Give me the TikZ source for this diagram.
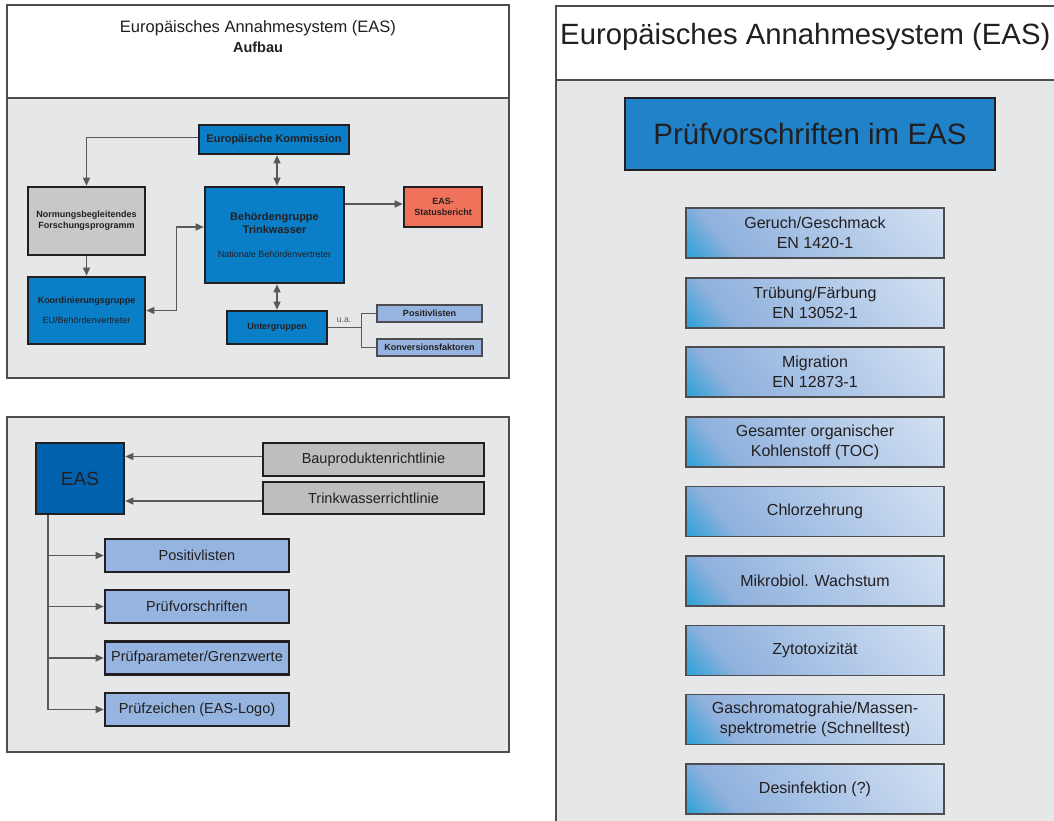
\documentclass[tikz,border=0pt]{standalone}
\usepackage{fontspec}
\setmainfont{Liberation Sans}
\usetikzlibrary{arrows.meta}

\definecolor{textdark}{HTML}{231F20}
\definecolor{framegrey}{HTML}{4D4D4F}
\definecolor{panelgrey}{HTML}{E6E7E8}
\definecolor{linegrey}{HTML}{58595B}
\definecolor{boxblue}{HTML}{0A7EC6}
\definecolor{easblue}{HTML}{0062AE}
\definecolor{headblue}{HTML}{2082C8}
\definecolor{paleblue}{HTML}{95B4DF}
\definecolor{boxgrey}{HTML}{BDBEC0}
\definecolor{normgrey}{HTML}{C8C8CA}
\definecolor{salmon}{HTML}{F1725A}
\definecolor{gradtop}{HTML}{D3E1F2}
\definecolor{gradmid}{HTML}{AAC4E6}
\definecolor{gradleft}{HTML}{8FB1DD}
\definecolor{gradbot}{HTML}{35A2D8}

\pgfdeclarehorizontalshading{testshade}{100bp}{color(0bp)=(gradbot); color(16bp)=(gradbot);
  color(27bp)=(gradleft); color(50bp)=(gradmid); color(85bp)=(gradtop); color(100bp)=(gradtop)}

\tikzset{
  panel/.style={draw=framegrey, line width=1.2pt, fill=panelgrey},
  orgbox/.style={draw=textdark, line width=2.6pt, inner sep=0pt, align=center, text=textdark,
    font={\fontsize{9}{11}\selectfont\bfseries}},
  smallbox/.style={draw=framegrey, line width=1.5pt, fill=paleblue, inner sep=0pt, text=textdark,
    minimum width=105pt, minimum height=17pt, font={\fontsize{9}{11}\selectfont\bfseries}},
  rulebox/.style={draw=textdark, line width=2.6pt, fill=boxgrey, inner sep=0pt, text=textdark,
    minimum width=221pt, minimum height=33pt, font={\fontsize{14.5}{17}\selectfont}},
  listbox/.style={draw=textdark, line width=2.6pt, fill=paleblue, inner sep=0pt, text=textdark,
    minimum width=184pt, minimum height=33pt, font={\fontsize{14.5}{17}\selectfont}},
  testbox/.style={draw=framegrey, line width=1.2pt, shade, shading=testshade, shading angle=40,
    inner sep=0pt, align=center, text=textdark,
    minimum width=258pt, minimum height=50pt, font={\fontsize{16}{20}\selectfont}},
  conn/.style={draw=linegrey, line width=1.3pt}
}

\begin{document}
\begin{tikzpicture}[x=1pt, y=-1pt, >={Triangle[length=8pt,width=7pt]}]
\useasboundingbox (0,0) rectangle (1054,821);
\clip (0,0) rectangle (1054,821);

% Aufbau
\draw[panel, fill=white] (7,5) rectangle (509,98);
\draw[panel] (7,98) rectangle (509,378);
\node[text=textdark, font={\fontsize{16.5}{20}\selectfont}] (titleA) at (258,28) {Europäisches Annahmesystem (EAS)};
\node[text=textdark, font={\fontsize{14.5}{17}\selectfont\bfseries}] (aufbau) at (258,47) {Aufbau};

\node[orgbox, fill=boxblue, minimum width=150pt, minimum height=29pt, font={\fontsize{11}{13}\selectfont\bfseries}] (kom) at (274,139.5) {Europäische Kommission};
\node[orgbox, fill=normgrey, minimum width=117pt, minimum height=68pt] (norm) at (86.5,221) {Normungsbegleitendes\\Forschungsprogramm};
\node[orgbox, fill=boxblue, minimum width=139pt, minimum height=96pt, font={\fontsize{11}{13}\selectfont\bfseries}] (beh) at (274.5,235) {Behördengruppe\\Trinkwasser\\[11pt]\fontsize{9}{11}\selectfont\mdseries Nationale Behördenvertreter};
\node[orgbox, fill=salmon, minimum width=78pt, minimum height=40pt] (stat) at (443,207) {EAS-\\Statusbericht};
\node[orgbox, fill=boxblue, minimum width=117pt, minimum height=67pt] (koor) at (86.5,310.5) {Koordinierungsgruppe\\[9pt]\mdseries EU/Behördenvertreter};
\node[orgbox, fill=boxblue, minimum width=100pt, minimum height=33pt] (unter) at (277,327.5) {Untergruppen};
\node[smallbox] (posA) at (429.5,313.5) {Positivlisten};
\node[smallbox] (konv) at (429.5,347.5) {Konversionsfaktoren};
\node[text=linegrey, font={\fontsize{8.5}{10}\selectfont}] (ua) at (344,320) {u.a.};

\draw[conn, ->] ([yshift=2pt]kom.west) -| (norm.north);
\draw[conn, <->] (kom.south -| unter.north) -- (beh.north -| unter.north);
\draw[conn, ->] (norm.south) -- (koor.north);
\draw[conn, <->] ([yshift=8pt]beh.west) -- ++(-27,0) |- (koor.east);
\draw[conn, ->] ([yshift=3pt]stat.west -| beh.east) -- ([yshift=3pt]stat.west);
\draw[conn, <->] (beh.south -| unter.north) -- (unter.north);
\draw[conn] (unter.east) -- ++(33,0) coordinate (split);
\draw[conn] (split) |- (posA.west);
\draw[conn] (split) |- (konv.west);

% EAS Bausteine
\draw[panel] (7,417) rectangle (509,752);
\node[draw=textdark, line width=2.6pt, fill=easblue, inner sep=0pt, text=textdark, minimum width=88pt, minimum height=71pt,
  font={\fontsize{19}{22}\selectfont}] (eas) at (80,478.5) {EAS};
\node[rulebox] (bau) at (373.5,459.5) {Bauproduktenrichtlinie};
\node[rulebox, minimum height=32pt] (trink) at (373.5,498) {Trinkwasserrichtlinie};
\node[listbox] (posB) at (197,555.5) {Positivlisten};
\node[listbox] (pvor) at (197,606.5) {Prüfvorschriften};
\node[listbox] (ppar) at (197,658) {Prüfparameter/Grenzwerte};
\node[listbox] (pzei) at (197,709.5) {Prüfzeichen (EAS-Logo)};

\draw[conn, ->] ([yshift=3pt]bau.west) -- ([yshift=3pt]bau.west -| eas.east);
\draw[conn, ->] ([yshift=-3pt]trink.west) -- ([yshift=-3pt]trink.west -| eas.east);
\coordinate (trunk) at ([xshift=-32pt]eas.south);
\draw[conn, ->] (trunk) |- (posB.west);
\draw[conn, ->] (trunk) |- (pvor.west);
\draw[conn, ->] (trunk) |- (ppar.west);
\draw[conn, ->] (trunk) |- (pzei.west);

% Pruefvorschriften
\draw[panel, fill=white] (556,6) rectangle (1064,80);
\draw[panel] (556,80) rectangle (1064,840);
\node[anchor=west, inner sep=0pt, text=textdark, font={\fontsize{29.3}{35}\selectfont}] (titleC) at (560,37) {Europäisches Annahmesystem (EAS)};
\node[draw=textdark, line width=2.6pt, fill=headblue, inner sep=0pt, text=textdark, minimum width=370pt, minimum height=72pt,
  font={\fontsize{29.5}{34}\selectfont}] (pv) at (810,134) {Prüfvorschriften im EAS};

\node[testbox] (geruch) at (815,233) {Geruch/Geschmack\\EN 1420-1};
\node[testbox] (truebung) at (815,303) {Trübung/Färbung\\EN 13052-1};
\node[testbox] (migration) at (815,372) {Migration\\EN 12873-1};
\node[testbox] (toc) at (815,442) {Gesamter organischer\\Kohlenstoff (TOC)};
\node[testbox] (chlor) at (815,511.5) {Chlorzehrung};
\node[testbox] (mikro) at (815,581) {Mikrobiol. Wachstum};
\node[testbox] (zyto) at (815,650.5) {Zytotoxizität};
\node[testbox] (gcms) at (815,719.5) {Gaschromatograhie/Massen-\\spektrometrie (Schnelltest)};
\node[testbox] (desinf) at (815,789) {Desinfektion (?)};
\end{tikzpicture}
\end{document}
